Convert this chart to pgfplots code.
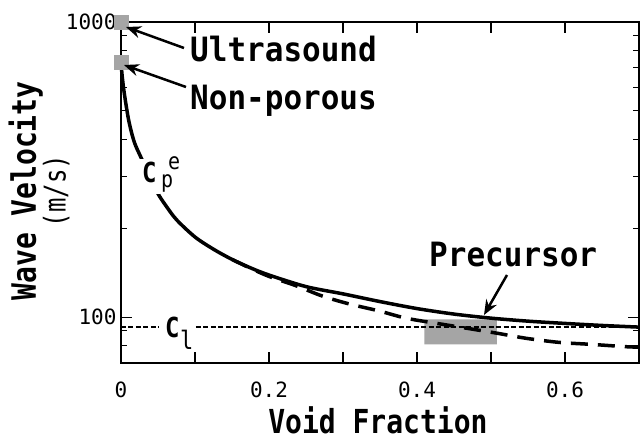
\documentclass[border=0pt]{standalone}
\usepackage{pgfplots}
\pgfplotsset{compat=1.18}
\usepackage{fontspec}
\usepackage{graphicx}
\setmainfont{DejaVu Sans Mono}
\usetikzlibrary{arrows.meta}
\definecolor{sq}{RGB}{165,165,165}
\newcommand{\bigt}[1]{\scalebox{1}[1.08]{\fontsize{31}{31}\selectfont\bfseries #1}}
\begin{document}
\begin{tikzpicture}
\path[use as bounding box] (-121pt,-79pt) rectangle (519pt,363pt);
\begin{axis}[
  at={(0pt,0pt)}, anchor=south west,
  scale only axis, width=518pt, height=341pt,
  xmin=0, xmax=0.7, ymode=log, ymin=70, ymax=1000,
  xtick={0,0.1,0.2,0.3,0.4,0.5,0.6}, xticklabels={0,,0.2,,0.4,,0.6},
  ytick={100,1000}, yticklabels={100,1000},
  minor ytick={70,80,90,200,300,400,500,600,700,800,900},
  major tick length=11pt, minor tick length=6pt,
  tick style={line width=1.2pt, black},
  axis line style={line width=1.5pt},
  tick label style={font=\fontsize{21}{21}\selectfont},
  xticklabel style={yshift=-15pt},
  yticklabel style={xshift=-1pt},
  /pgf/number format/assume math mode=true,
  clip=false,
  xlabel={\scalebox{1}[1.18]{\fontsize{28}{28}\selectfont\bfseries Void Fraction}},
  xlabel style={at={(axis description cs:0.496,0)}, anchor=center, yshift=-57pt},
  ylabel={\scalebox{1}[1.2]{\fontsize{28}{28}\selectfont\bfseries Wave Velocity}\\[-1pt]\scalebox{1}[1.25]{\fontsize{24}{24}\selectfont (m/s)}},
  ylabel style={align=center, at={(axis description cs:-0.1583,0.5044)}, anchor=center},
]
% precursor region
\addplot[fill=sq, draw=none] coordinates {(0.41,81) (0.508,81) (0.508,98.4) (0.41,98.4) (0.41,81)};
% C_l
\addplot[black, line width=2pt, dash pattern=on 5pt off 2.5pt] coordinates {(0,93) (0.7,93)};
% dashed
\addplot[black, line width=3.5pt, dash pattern=on 17pt off 10pt, smooth] coordinates {
(0.15,157) (0.175,146.5) (0.2,137.5) (0.236,128) (0.272,118) (0.308,111) (0.349,105) (0.385,99.3) (0.426,95.4) (0.466,91.9) (0.507,88.4) (0.547,84.9) (0.592,82.2) (0.637,80.9) (0.682,79.5) (0.7,79.2)};
% solid
\addplot[black, line width=3.5pt, smooth] coordinates {
(0,730) (0.001,680) (0.003,610) (0.006,540) (0.01,470) (0.015,415) (0.02,380) (0.03,335) (0.04,292) (0.05,262) (0.06,240) (0.075,214) (0.1,187) (0.125,170) (0.15,157) (0.175,147) (0.2,139) (0.25,127) (0.3,120) (0.35,113) (0.4,107) (0.45,102.5) (0.5,99.3) (0.55,97) (0.6,95.3) (0.65,93.8) (0.7,92.6)};
% squares
\addplot[sq, only marks, mark=square*, mark size=7pt, mark options={fill=sq, draw=sq}] coordinates {(0,1000) (0,730)};
\end{axis}
% gaps behind labels
\fill[white] (16pt,169pt) rectangle (39pt,204pt);
\fill[white] (38pt,33pt) rectangle (74pt,40pt);
% labels
\node[anchor=base west, inner sep=0pt] at (21pt,180pt) {\scalebox{1}[1.15]{\fontsize{24}{24}\selectfont\bfseries C}};
\node[anchor=base west, inner sep=0pt] at (40pt,175pt) {\scalebox{1}[1.15]{\fontsize{20}{20}\selectfont p}};
\node[anchor=base west, inner sep=0pt] at (47pt,193pt) {\scalebox{1}[1.15]{\fontsize{20}{20}\selectfont e}};
\node[anchor=base west, inner sep=0pt] at (44pt,25pt) {\scalebox{1}[1.15]{\fontsize{24}{24}\selectfont\bfseries C}};
\node[anchor=base west, inner sep=0pt] at (59pt,13pt) {\scalebox{1}[1.15]{\fontsize{22}{22}\selectfont l}};
\node[anchor=base west, inner sep=0pt] at (69pt,301pt) {\bigt{Ultrasound}};
\node[anchor=base west, inner sep=0pt] at (69pt,253pt) {\bigt{Non-porous}};
\node[anchor=base west, inner sep=0pt] at (308pt,96.3pt) {\bigt{Precursor}};
% arrows
\draw[line width=2.5pt, -{Stealth[length=15pt,width=12pt]}] (63pt,315pt) -- (5pt,336pt);
\draw[line width=2.5pt, -{Stealth[length=15pt,width=12pt]}] (65pt,276pt) -- (3pt,298pt);
\draw[line width=2.5pt, -{Stealth[length=15pt,width=12pt]}] (386pt,88pt) -- (363pt,48pt);
\end{tikzpicture}
\end{document}
